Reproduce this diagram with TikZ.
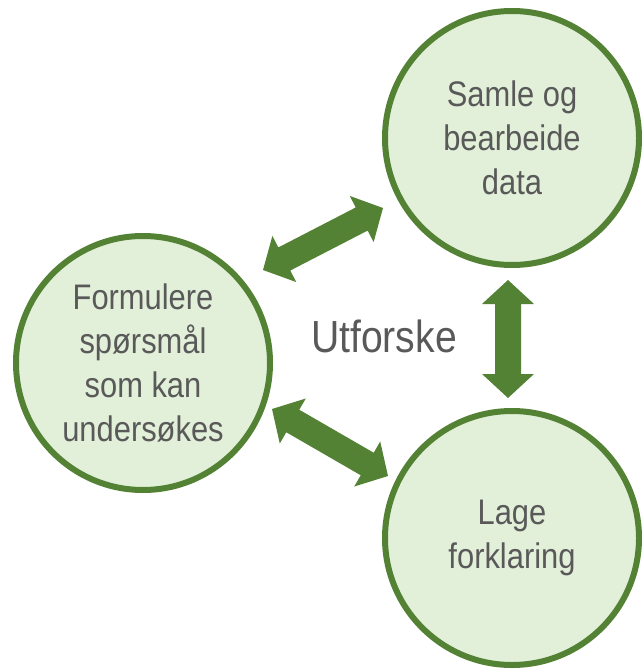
\documentclass[tikz,border=0pt]{standalone}
\usepackage{fontspec}
\setmainfont[FakeStretch=0.87]{Liberation Sans}
\usetikzlibrary{calc}
\definecolor{leafgreen}{RGB}{84,130,53}
\definecolor{palegreen}{RGB}{226,240,217}
\definecolor{textgrey}{RGB}{89,89,89}
\tikzset{
  stagecircle/.style={circle, draw=leafgreen, line width=6pt, fill=palegreen,
    minimum size=254pt, inner sep=0pt, text=textgrey, align=center,
    font=\fontsize{35.5}{44}\selectfont},
  fatarrow/.style={fill=leafgreen, draw=none},
}
% double-headed block arrow between two named points:
% head length 24pt, head width 52pt, shaft width 26pt
\newcommand\fatlink[2]{%
  \fill[fatarrow] (#1)
    -- ($(#1)!24pt!(#2)!26pt!90:(#2)$)
    -- ($(#1)!24pt!(#2)!13pt!90:(#2)$)
    -- ($(#2)!24pt!(#1)!13pt!-90:(#1)$)
    -- ($(#2)!24pt!(#1)!26pt!-90:(#1)$)
    -- (#2)
    -- ($(#2)!24pt!(#1)!26pt!90:(#1)$)
    -- ($(#2)!24pt!(#1)!13pt!90:(#1)$)
    -- ($(#1)!24pt!(#2)!13pt!-90:(#2)$)
    -- ($(#1)!24pt!(#2)!26pt!-90:(#2)$)
    -- cycle;}
\begin{document}
\begin{tikzpicture}[x=1pt,y=-1pt]
\useasboundingbox (0,0) rectangle (641,671);
\node[stagecircle] (collect) at (512,138) {Samle og\\bearbeide\\data};
\node[stagecircle] (ask) at (143,363) {Formulere\\spørsmål\\som kan\\undersøkes};
\node[stagecircle] (explain) at (512,538) {Lage\\forklaring};
\node[text=textgrey, font=\fontsize{45}{50}\selectfont] (explore) at (384,336) {Utforske};
% arrow end points between the stages
\coordinate (a1s) at (263,270);
\coordinate (a1e) at (383,208);
\coordinate (a2s) at (272,409);
\coordinate (a2e) at (388,476);
\coordinate (a3s) at (508,280);
\coordinate (a3e) at (508,398);
\fatlink{a1s}{a1e}
\fatlink{a2s}{a2e}
\fatlink{a3s}{a3e}
\end{tikzpicture}
\end{document}
